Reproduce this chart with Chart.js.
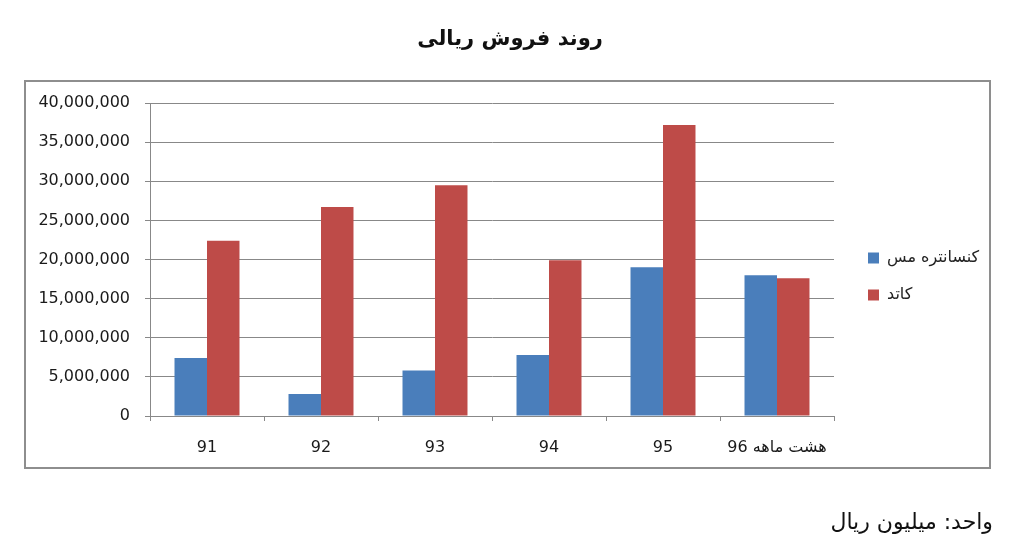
<!DOCTYPE html>
<html>
<head>
<meta charset="utf-8">
<script src="https://cdn.jsdelivr.net/npm/chart.js@4/dist/chart.umd.min.js"></script>
<style>
html,body{margin:0;padding:0;background:#fff;}
#wrap{position:relative;width:1024px;height:547px;overflow:hidden;}
#c{position:absolute;left:0;top:0;}
.t{position:absolute;font-family:'DejaVu Sans',sans-serif;color:#111;direction:rtl;white-space:nowrap;}
#title{left:0;width:1020px;top:25px;line-height:26px;font-size:21px;font-weight:bold;text-align:center;}
#unit{right:31px;top:509px;line-height:26px;font-size:22px;}
</style>
</head>
<body>
<div id="wrap">
<canvas id="c" width="1024" height="547"></canvas>
<div class="t" id="title">روند فروش ریالی</div>
<div class="t" id="unit">واحد: میلیون ریال</div>
</div>
<script>
const categories = ['91', '92', '93', '94', '95', 'هشت ماهه 96'];
const seriesNames = ['کنسانتره مس', 'کاتد'];
const concentrateValues = [7400000, 2800000, 5800000, 7800000, 19000000, 18000000];
const cathodeValues = [22400000, 26700000, 29500000, 19900000, 37200000, 17600000];
const yMin = 0;
const yMax = 40000000;
const yStep = 5000000;

const frame = {
  id: 'frame',
  beforeDraw(chart) {
    const ctx = chart.ctx;
    ctx.save();
    ctx.strokeStyle = '#8e8e8e';
    ctx.lineWidth = 2;
    ctx.strokeRect(25, 81, 965, 387);
    ctx.restore();
  }
};

const legendPlace = {
  id: 'legendPlace',
  afterInit(chart) {
    const lg = chart.legend;
    const f = lg.fit;
    lg.fit = function () { f.call(this); this.width = 190; };
  },
  afterLayout(chart) {
    const lg = chart.legend;
    lg.left = 847; lg.right = lg.left + lg.width;
    lg.top = 95; lg.bottom = 458; lg.height = lg.bottom - lg.top;
  }
};

const gridColor = '#888888';
const font16 = { family: 'DejaVu Sans', size: 16 };

new Chart(document.getElementById('c'), {
  type: 'bar',
  data: {
    labels: categories,
    datasets: [
      { label: seriesNames[0], data: concentrateValues, backgroundColor: '#4a7ebb', borderWidth: 0 },
      { label: seriesNames[1], data: cathodeValues, backgroundColor: '#be4b48', borderWidth: 0 }
    ]
  },
  options: {
    responsive: false,
    animation: false,
    devicePixelRatio: 1,
    categoryPercentage: 0.57,
    barPercentage: 1.0,
    layout: { padding: { top: 103, bottom: 79, left: 0, right: 0 } },
    plugins: {
      title: { display: false },
      tooltip: { enabled: false },
      legend: {
        position: 'right',
        labels: {
          boxWidth: 11, boxHeight: 11, padding: 21,
          color: '#222',
          font: { family: 'DejaVu Sans', size: 16 }
        }
      }
    },
    scales: {
      x: {
        grid: { drawOnChartArea: false, drawTicks: true, tickLength: 5, color: gridColor, offset: true },
        border: { display: true, color: gridColor, width: 1 },
        ticks: { color: '#1a1a1a', font: font16, padding: 17, maxRotation: 0, autoSkip: false },
        afterFit(scale) { scale.height = 52; }
      },
      y: {
        min: yMin, max: yMax,
        grid: { color: gridColor, tickLength: 5, drawTicks: true },
        border: { display: true, color: gridColor, width: 1 },
        ticks: {
          stepSize: yStep, color: '#1a1a1a', font: font16, padding: 15,
          callback: v => Number(v).toLocaleString('en-US')
        },
        afterFit(scale) { scale.width = 150; }
      }
    }
  },
  plugins: [frame, legendPlace]
});
</script>
</body>
</html>
